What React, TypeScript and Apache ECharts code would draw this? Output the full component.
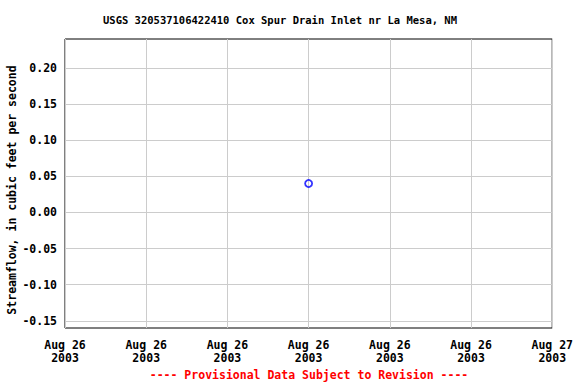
import React, { useEffect, useRef } from "react";
import * as echarts from "echarts";

const title = "USGS 320537106422410 Cox Spur Drain Inlet nr La Mesa, NM";
const yAxisName = "Streamflow, in cubic feet per second";
const footer = "---- Provisional Data Subject to Revision ----";
// hours since Aug 26 2003 00:00
const pointHours = [12];
const pointValues = [0.04];
const xTickLabels = [
  "Aug 26\n2003",
  "Aug 26\n2003",
  "Aug 26\n2003",
  "Aug 26\n2003",
  "Aug 26\n2003",
  "Aug 26\n2003",
  "Aug 27\n2003",
];
const yTickValues = [-0.15, -0.1, -0.05, 0, 0.05, 0.1, 0.15, 0.2];

const FONT = "'DejaVu Sans Mono', monospace";

export default function App() {
  const ref = useRef<HTMLDivElement>(null);
  useEffect(() => {
    if (!ref.current) return;
    const chart = echarts.init(ref.current, undefined, { renderer: "svg" });
    chart.setOption({
      animation: false,
      backgroundColor: "#ffffff",
      graphic: [
        {
          type: "text",
          x: 280,
          y: 20,
          style: {
            text: title,
            fontFamily: FONT,
            fontSize: 10.5,
            fontWeight: "bold",
            fill: "#000",
            align: "center",
            verticalAlign: "middle",
          },
        },
        {
          type: "text",
          x: 12,
          y: 190,
          rotation: Math.PI / 2,
          style: {
            text: yAxisName,
            fontFamily: FONT,
            fontSize: 11.5,
            fontWeight: "bold",
            fill: "#000",
            align: "center",
            verticalAlign: "middle",
          },
        },
        {
          type: "text",
          x: 309,
          y: 375,
          style: {
            text: footer,
            fontFamily: FONT,
            fontSize: 11.5,
            fontWeight: "bold",
            fill: "#ff0000",
            align: "center",
            verticalAlign: "middle",
          },
        },
      ],
      grid: { left: 65, right: 22, top: 39, bottom: 56, show: true, borderColor: "#000", borderWidth: 1, backgroundColor: "transparent" },
      xAxis: {
        type: "value",
        min: 0,
        max: 24,
        interval: 4,
        axisLine: { show: false },
        axisTick: { show: false },
        splitLine: { show: true, lineStyle: { color: "#cccccc", width: 1 } },
        axisLabel: {
          margin: 10,
          fontFamily: FONT,
          fontSize: 11.5,
          fontWeight: "bold",
          color: "#000",
          lineHeight: 13,
          formatter: (v: number) => xTickLabels[Math.round(v / 4)] ?? "",
        },
      },
      yAxis: {
        type: "value",
        min: -0.16,
        max: 0.24,
        axisLine: { show: false },
        axisTick: { show: false, customValues: yTickValues },
        splitLine: { show: true, lineStyle: { color: "#cccccc", width: 1 } },
        axisLabel: {
          margin: 8,
          fontFamily: FONT,
          fontSize: 11.5,
          fontWeight: "bold",
          color: "#000",
          customValues: yTickValues,
          formatter: (v: number) => v.toFixed(2),
        },
      },
      series: [
        {
          type: "scatter",
          data: pointHours.map((h, i) => [h, pointValues[i]]),
          symbol: "circle",
          symbolSize: 7,
          itemStyle: { color: "transparent", borderColor: "#0000ff", borderWidth: 1.8 },
        },
      ],
    });
    return () => chart.dispose();
  }, []);
  return <div ref={ref} style={{ width: 576, height: 384, position: "absolute", left: 0, top: 0 }} />;
}
